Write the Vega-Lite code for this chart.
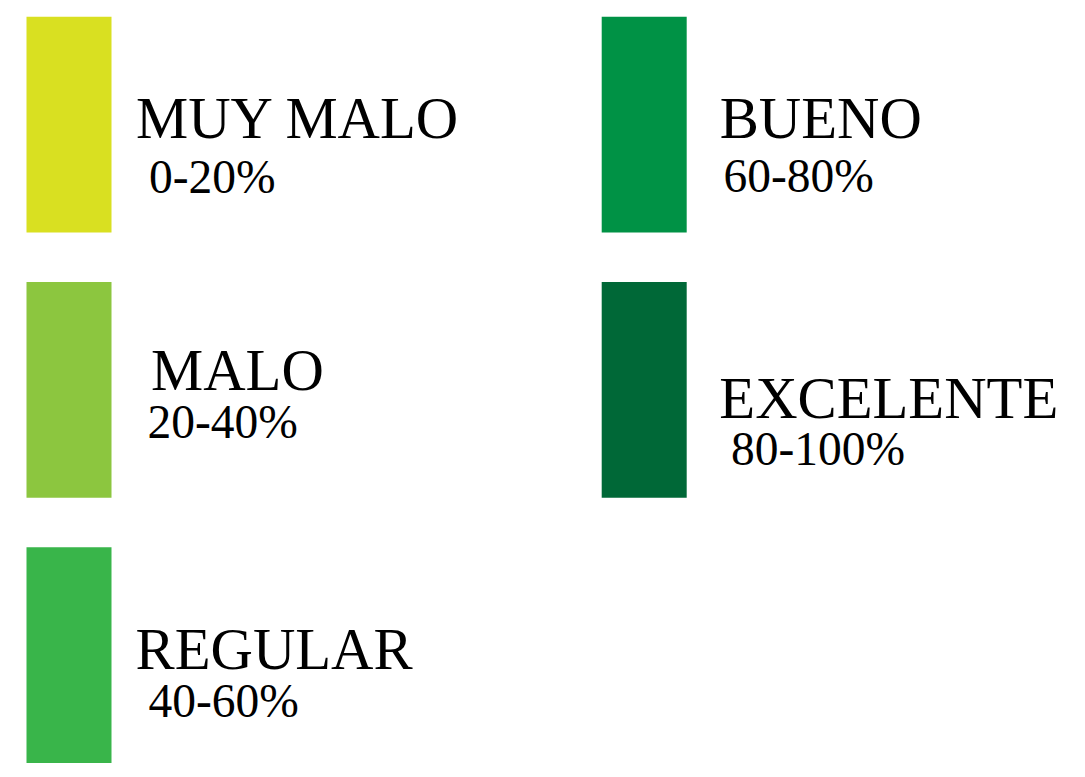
{
  "$schema": "https://vega.github.io/schema/vega-lite/v6.json",
  "width": 1085,
  "height": 777,
  "autosize": {"type": "fit", "contains": "padding"},
  "padding": 0,
  "background": "white",
  "config": {"view": {"stroke": null}},
  "data": {
    "values": [
      {"label": "MUY MALO", "range": "0-20%", "col": 0, "row": 0},
      {"label": "MALO", "range": "20-40%", "col": 0, "row": 1},
      {"label": "REGULAR", "range": "40-60%", "col": 0, "row": 2},
      {"label": "BUENO", "range": "60-80%", "col": 1, "row": 0},
      {"label": "EXCELENTE", "range": "80-100%", "col": 1, "row": 1}
    ]
  },
  "encoding": {
    "x": {"field": "col", "type": "quantitative", "axis": null, "scale": {"domain": [0, 1], "range": [26.5, 601.7], "nice": false, "zero": false}},
    "y": {"field": "row", "type": "quantitative", "axis": null, "scale": {"domain": [0, 2], "range": [16.7, 547.3], "nice": false, "zero": false}}
  },
  "layer": [
    {
      "mark": {"type": "rect", "x2Offset": 85, "y2Offset": 215.8},
      "encoding": {
        "x2": {"field": "col"},
        "y2": {"field": "row"},
        "color": {"field": "label", "type": "nominal", "legend": null,
          "scale": {"domain": ["MUY MALO", "MALO", "REGULAR", "BUENO", "EXCELENTE"],
                    "range": ["#D9E021", "#8CC63F", "#39B54A", "#009245", "#006837"]}}
      }
    },
    {"transform": [{"filter": "datum.label === 'MUY MALO'"}],
     "mark": {"type": "text", "align": "left", "baseline": "alphabetic", "font": "Liberation Serif", "fontSize": 58.7, "color": "black", "dx": 109.5, "dy": 121.6},
     "encoding": {"text": {"field": "label"}}},
    {"transform": [{"filter": "datum.label === 'MUY MALO'"}],
     "mark": {"type": "text", "align": "left", "baseline": "alphabetic", "font": "Liberation Serif", "fontSize": 47.5, "color": "black", "dx": 122.5, "dy": 176},
     "encoding": {"text": {"field": "range"}}},
    {"transform": [{"filter": "datum.label === 'MALO'"}],
     "mark": {"type": "text", "align": "left", "baseline": "alphabetic", "font": "Liberation Serif", "fontSize": 58.7, "color": "black", "dx": 124.5, "dy": 108},
     "encoding": {"text": {"field": "label"}}},
    {"transform": [{"filter": "datum.label === 'MALO'"}],
     "mark": {"type": "text", "align": "left", "baseline": "alphabetic", "font": "Liberation Serif", "fontSize": 47.5, "color": "black", "dx": 121, "dy": 156.3},
     "encoding": {"text": {"field": "range"}}},
    {"transform": [{"filter": "datum.label === 'REGULAR'"}],
     "mark": {"type": "text", "align": "left", "baseline": "alphabetic", "font": "Liberation Serif", "fontSize": 58.7, "color": "black", "dx": 109, "dy": 122},
     "encoding": {"text": {"field": "label"}}},
    {"transform": [{"filter": "datum.label === 'REGULAR'"}],
     "mark": {"type": "text", "align": "left", "baseline": "alphabetic", "font": "Liberation Serif", "fontSize": 47.5, "color": "black", "dx": 122, "dy": 170},
     "encoding": {"text": {"field": "range"}}},
    {"transform": [{"filter": "datum.label === 'BUENO'"}],
     "mark": {"type": "text", "align": "left", "baseline": "alphabetic", "font": "Liberation Serif", "fontSize": 58.7, "color": "black", "dx": 118, "dy": 121.6},
     "encoding": {"text": {"field": "label"}}},
    {"transform": [{"filter": "datum.label === 'BUENO'"}],
     "mark": {"type": "text", "align": "left", "baseline": "alphabetic", "font": "Liberation Serif", "fontSize": 47.5, "color": "black", "dx": 121.8, "dy": 175.6},
     "encoding": {"text": {"field": "range"}}},
    {"transform": [{"filter": "datum.label === 'EXCELENTE'"}],
     "mark": {"type": "text", "align": "left", "baseline": "alphabetic", "font": "Liberation Serif", "fontSize": 58.7, "color": "black", "dx": 117.6, "dy": 135.7},
     "encoding": {"text": {"field": "label"}}},
    {"transform": [{"filter": "datum.label === 'EXCELENTE'"}],
     "mark": {"type": "text", "align": "left", "baseline": "alphabetic", "font": "Liberation Serif", "fontSize": 47.5, "color": "black", "dx": 129.3, "dy": 183},
     "encoding": {"text": {"field": "range"}}}
  ]
}
